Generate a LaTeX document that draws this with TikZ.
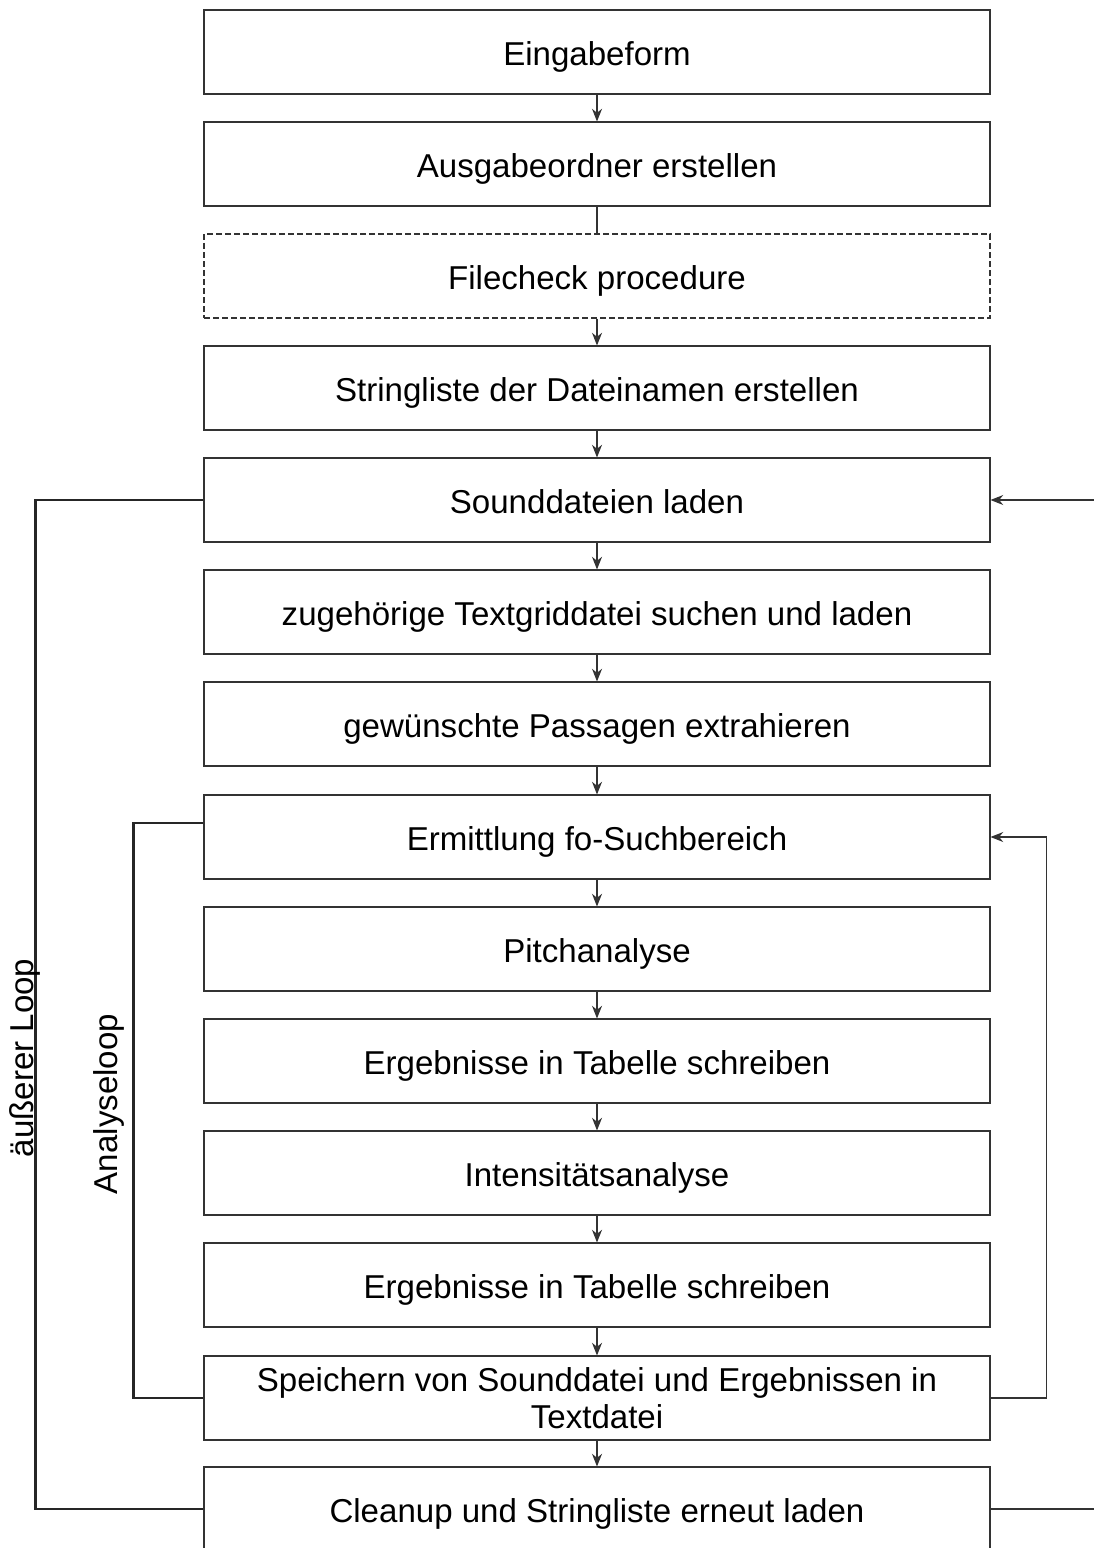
\documentclass[tikz,border=0pt]{standalone}
\usepackage{fontspec}
\setmainfont{Liberation Sans}
\usetikzlibrary{arrows.meta}

\begin{document}
\begin{tikzpicture}[x=0.75pt,y=0.75pt,yscale=-1,xscale=1,
    blk/.style={draw=black!80,line width=0.8pt,minimum width=589.5pt,minimum height=63pt,inner sep=0pt,align=center,text height=23pt,text depth=3pt,font=\fontsize{24.8pt}{28pt}\selectfont},
    flow/.style={draw=black!80,line width=0.8pt,-{Stealth[length=9.5pt,width=7.5pt,inset=3pt]}},
    loopline/.style={draw=black!85,line width=1.6pt},
    looptext/.style={rotate=90,inner sep=0pt,font=\fontsize{24.8pt}{28pt}\selectfont}]
    \useasboundingbox (0,0) rectangle (1094,1548);
    % boxes
    \node [blk] (eingabe) at (597,52) {Eingabeform};
    \node [blk] (ordner) at (597,164) {Ausgabeordner erstellen};
    \node [blk,dash pattern=on 4.5pt off 2.25pt] (check) at (597,276) {Filecheck procedure};
    \node [blk] (liste) at (597,388) {Stringliste der Dateinamen erstellen};
    \node [blk] (sound) at (597,500) {Sounddateien laden};
    \node [blk] (grid) at (597,612) {zugehörige Textgriddatei suchen und laden};
    \node [blk] (passagen) at (597,724) {gewünschte Passagen extrahieren};
    \node [blk] (suche) at (597,837) {Ermittlung fo-Suchbereich};
    \node [blk] (pitch) at (597,949) {Pitchanalyse};
    \node [blk] (tab1) at (597,1061) {Ergebnisse in Tabelle schreiben};
    \node [blk] (intens) at (597,1173) {Intensitätsanalyse};
    \node [blk] (tab2) at (597,1285) {Ergebnisse in Tabelle schreiben};
    \node [blk,text height={},text depth={}] (speichern) at (597,1398) {Speichern von Sounddatei und Ergebnissen in\\Textdatei};
    \node [blk] (cleanup) at (597,1509) {Cleanup und Stringliste erneut laden};
    % free ends on the right
    \coordinate (inR) at (1094,500);
    \coordinate (outR) at (1094,1509);
    % main flow
    \draw [flow] (eingabe) -- (ordner);
    \draw [draw=black!80,line width=0.8pt] (ordner) -- (check);
    \draw [flow] (check) -- (liste);
    \draw [flow] (liste) -- (sound);
    \draw [flow] (sound) -- (grid);
    \draw [flow] (grid) -- (passagen);
    \draw [flow] (passagen) -- (suche);
    \draw [flow] (suche) -- (pitch);
    \draw [flow] (pitch) -- (tab1);
    \draw [flow] (tab1) -- (intens);
    \draw [flow] (intens) -- (tab2);
    \draw [flow] (tab2) -- (speichern);
    \draw [flow] (speichern) -- (cleanup);
    % loops
    \draw [flow] (inR) -- (sound);
    \draw [draw=black!80,line width=0.8pt] (cleanup.east) -- (outR);
    \draw [flow] (speichern.east) -- ++(56,0) |- (suche.east);
    \draw [loopline] (sound.west) -- ++(-168,0) |- (cleanup.west);
    \draw [loopline] ([yshift=-10.5pt]suche.west) -- ++(-70,0) |- (speichern.west);
    \node [looptext] (aussen) at (24.5,1058) {äußerer Loop};
    \node [looptext] (analyse) at (108.5,1104) {Analyseloop};
\end{tikzpicture}
\end{document}
